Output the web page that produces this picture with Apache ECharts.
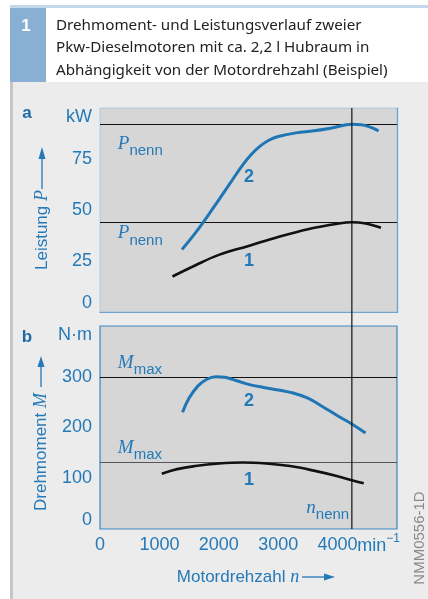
<!DOCTYPE html>
<html><head><meta charset="utf-8">
<script src="https://cdn.jsdelivr.net/npm/echarts@6/dist/echarts.min.js"></script>
<style>html,body{margin:0;padding:0;background:#fff}#c{width:428px;height:599px}</style>
</head><body><div id="c"></div>
<script>
// Engine speed (min^-1) and output for the two diesel engines
const powerRpm2 = [1380, 1600, 1800, 2000, 2200, 2400, 2550, 2700, 2850, 3000, 3300, 3600, 3900, 4240, 4400, 4550, 4690];
const powerKw2  = [30.6, 38.5, 46.5, 55.0, 63.5, 72.0, 77.3, 81.4, 84.3, 86.0, 87.8, 88.8, 90.2, 92.0, 91.8, 90.6, 88.8];
const powerRpm1 = [1220, 1600, 2000, 2500, 3000, 3500, 4000, 4240, 4450, 4730];
const powerKw1  = [17.4, 22.8, 28.0, 32.4, 36.8, 40.6, 43.3, 44.0, 43.5, 41.3];
const torqueRpm2 = [1390, 1500, 1650, 1800, 1950, 2100, 2300, 2500, 2750, 3000, 3250, 3500, 3750, 4000, 4240, 4470];
const torqueNm2  = [230, 258, 282, 295, 300, 299, 292, 285, 279, 274, 268, 258, 241, 223, 207, 189];
const torqueRpm1 = [1040, 1300, 1600, 2000, 2400, 2800, 3200, 3600, 4000, 4240, 4440];
const torqueNm1  = [109, 118, 124, 129, 131, 129, 124, 115, 104, 96, 90];

// Rated power, maximum torque and rated speed markers
const ratedPower = [92, 44];
const maxTorque = [300, 131];
const ratedSpeed = 4240;

// Axis ticks
const rpmTicks = [0, 1000, 2000, 3000, 4000];
const rpmTickLabels = ['0', '1000', '2000', '3000', '4000'];
const rpmUnit = '{u|min}{e|−1}';
const powerTicks = [0, 25, 50, 75, 100];
const powerTickLabels = ['0', '25', '50', '75', 'kW'];
const torqueTicks = [0, 100, 200, 300, 400];
const torqueTickLabels = ['0', '100', '200', '300', 'N·m'];

const BLUE = '#1f76b4';
const TXT = '#2479b8';
const FONT = '"Liberation Sans", Arial, Helvetica, sans-serif';
const SERIF = '"Liberation Serif", "DejaVu Serif", serif';

const zip = (a, b) => a.map((v, i) => [v, b[i]]);
const lookup = (ticks, labels) => v => { const i = ticks.indexOf(v); return i < 0 ? '' : labels[i]; };

const chart = echarts.init(document.getElementById('c'), null, {renderer: 'canvas'});

const xAxisBase = {
  type: 'value', min: 0, max: 5000, interval: 1000,
  splitLine: {show: true, lineStyle: {color: '#ffffff', width: 1.5}},
  axisTick: {show: false}
};
const yLabel = {color: TXT, fontSize: 18, fontFamily: FONT, margin: 8,
  verticalAlignMinLabel: 'bottom', verticalAlignMaxLabel: 'top'};

function hLines(values, color) {
  return {
    silent: true, symbol: 'none', animation: false,
    label: {show: false},
    lineStyle: {color: color, width: 1.2, type: 'solid'},
    data: values.map(v => ({yAxis: v}))
  };
}

chart.setOption({
  animation: false,
  backgroundColor: '#ffffff',
  grid: [
    {left: 100, top: 108, width: 297, height: 204, show: true, backgroundColor: '#d6d6d6', borderColor: '#a9c4dc', borderWidth: 1, z: 1},
    {left: 100, top: 326, width: 297, height: 203, show: true, backgroundColor: '#d6d6d6', borderColor: '#3583c0', borderWidth: 1.2, z: 1}
  ],
  xAxis: [
    Object.assign({}, xAxisBase, {gridIndex: 0, axisLabel: {show: false},
      axisLine: {show: true, lineStyle: {color: '#3583c0', width: 1.2}}}),
    Object.assign({}, xAxisBase, {gridIndex: 1,
      axisLine: {show: false},
      axisLabel: {color: TXT, fontSize: 18, fontFamily: FONT, margin: 7, interval: 0,
        showMaxLabel: false, showMinLabel: true,
        formatter: lookup(rpmTicks, rpmTickLabels)}})
  ],
  yAxis: [
    {type: 'value', gridIndex: 0, min: 0, max: 100, interval: 25,
      splitLine: {show: true, lineStyle: {color: '#ffffff', width: 1.5}},
      axisLine: {show: false}, axisTick: {show: false},
      axisLabel: Object.assign({formatter: lookup(powerTicks, powerTickLabels), showMaxLabel: true}, yLabel)},
    {type: 'value', gridIndex: 0, position: 'right', min: 0, max: 100, interval: 25,
      splitLine: {show: false}, axisTick: {show: false}, axisLabel: {show: false},
      axisLine: {show: true, lineStyle: {color: '#3583c0', width: 1.2}}},
    {type: 'value', gridIndex: 1, min: 0, max: 400, interval: 100,
      splitLine: {show: true, lineStyle: {color: '#ffffff', width: 1.5}},
      axisLine: {show: false}, axisTick: {show: false},
      axisLabel: Object.assign({formatter: lookup(torqueTicks, torqueTickLabels), showMaxLabel: true}, yLabel)}
  ],
  series: [
    {type: 'line', xAxisIndex: 0, yAxisIndex: 0, data: zip(powerRpm2, powerKw2), smooth: 0.4,
      showSymbol: false, lineStyle: {color: BLUE, width: 3}, z: 5,
      markLine: hLines(ratedPower, '#111111')},
    {type: 'line', xAxisIndex: 0, yAxisIndex: 0, data: zip(powerRpm1, powerKw1), smooth: 0.4,
      showSymbol: false, lineStyle: {color: '#111111', width: 2.6}, z: 5},
    {type: 'line', xAxisIndex: 1, yAxisIndex: 2, data: zip(torqueRpm2, torqueNm2), smooth: 0.4,
      showSymbol: false, lineStyle: {color: BLUE, width: 3}, z: 5,
      markLine: hLines([maxTorque[0]], '#111111')},
    {type: 'line', xAxisIndex: 1, yAxisIndex: 2, data: zip(torqueRpm1, torqueNm1), smooth: 0.4,
      showSymbol: false, lineStyle: {color: '#111111', width: 2.6}, z: 5,
      markLine: hLines([maxTorque[1]], '#555555')}
  ]
});

// Text annotations, placed in data coordinates of each panel
const px = (grid, x, y) => chart.convertToPixel({xAxisIndex: grid, yAxisIndex: grid === 0 ? 0 : 2}, [x, y]);
const tok = (o) => Object.assign({fill: TXT, color: TXT}, o);
const subRich = {
  i: tok({fontFamily: SERIF, fontStyle: 'italic', fontSize: 19, verticalAlign: 'top', lineHeight: 24}),
  s: tok({fontFamily: FONT, fontSize: 15, verticalAlign: 'bottom', lineHeight: 24}),
  b: tok({fontFamily: FONT, fontWeight: 'bold', fontSize: 18}),
  u: tok({fontFamily: FONT, fontSize: 18, verticalAlign: 'bottom', lineHeight: 22}),
  e: tok({fontFamily: FONT, fontSize: 12, verticalAlign: 'top', lineHeight: 22})
};
const titleRich = {
  a: tok({fontFamily: FONT, fontSize: 17}),
  i: tok({fontFamily: SERIF, fontStyle: 'italic', fontSize: 18})
};
const notes = [
  {g: 0, x: 300, y: 81, t: '{i|P}{s|nenn}', align: 'left'},
  {g: 0, x: 300, y: 37.3, t: '{i|P}{s|nenn}', align: 'left'},
  {g: 1, x: 300, y: 322, t: '{i|M}{s|max}', align: 'left'},
  {g: 1, x: 300, y: 155, t: '{i|M}{s|max}', align: 'left'},
  {g: 1, x: ratedSpeed - 45, y: 37, t: '{i|n}{s|nenn}', align: 'right'},
  {g: 0, x: 2510, y: 66.3, t: '{b|2}', align: 'center'},
  {g: 0, x: 2510, y: 25, t: '{b|1}', align: 'center'},
  {g: 1, x: 2510, y: 252, t: '{b|2}', align: 'center'},
  {g: 1, x: 2510, y: 96.5, t: '{b|1}', align: 'center'}
];
const graphics = [
  // panel backgrounds
  {type: 'rect', z: -10, shape: {x: 10, y: 5, width: 418, height: 77}, style: {fill: '#c4d6ea'}},
  {type: 'rect', z: -9, shape: {x: 10, y: 8, width: 36, height: 74}, style: {fill: '#8aafd5'}},
  {type: 'rect', z: -9, shape: {x: 46, y: 8, width: 382, height: 74}, style: {fill: '#ffffff'}},
  {type: 'rect', z: -10, shape: {x: 10, y: 82, width: 418, height: 517}, style: {fill: '#ececec'}},
  {type: 'rect', z: -9, shape: {x: 10, y: 82, width: 3, height: 517}, style: {fill: '#c6c6c6'}},
  // heading
  {type: 'text', z: 10, x: 26, y: 26, style: {text: '1', fill: '#ffffff', font: 'bold 17px ' + FONT, textAlign: 'center', textVerticalAlign: 'middle'}},
  {type: 'text', z: 10, x: 56, y: 14, style: {
    text: 'Drehmoment- und Leistungsverlauf zweier\nPkw-Dieselmotoren mit ca. 2,2 l Hubraum in\nAbhängigkeit von der Motordrehzahl (Beispiel)',
    fill: '#222222', font: '15.2px "Noto Sans", sans-serif', lineHeight: 22.5, textAlign: 'left', textVerticalAlign: 'top'}},
  // panel letters
  {type: 'text', z: 10, x: 27, y: 113, style: {text: 'a', fill: '#1d6aa8', font: 'bold 17px ' + FONT, textAlign: 'center', textVerticalAlign: 'middle'}},
  {type: 'text', z: 10, x: 27, y: 337, style: {text: 'b', fill: '#1d6aa8', font: 'bold 17px ' + FONT, textAlign: 'center', textVerticalAlign: 'middle'}},
  // axis titles
  {type: 'text', z: 10, x: 42, y: 230, rotation: Math.PI / 2, style: {
    text: '{a|Leistung }{i|P}', fill: TXT, textAlign: 'center', textVerticalAlign: 'middle', rich: titleRich}},
  {type: 'line', z: 10, shape: {x1: 42, y1: 189, x2: 42, y2: 156}, style: {stroke: TXT, lineWidth: 1.3}},
  {type: 'polygon', z: 10, shape: {points: [[42, 147], [38.5, 159], [45.5, 159]]}, style: {fill: TXT}},
  {type: 'text', z: 10, x: 41, y: 452, rotation: Math.PI / 2, style: {
    text: '{a|Drehmoment }{i|M}', fill: TXT, textAlign: 'center', textVerticalAlign: 'middle', rich: titleRich}},
  {type: 'line', z: 10, shape: {x1: 41, y1: 387, x2: 41, y2: 364}, style: {stroke: TXT, lineWidth: 1.3}},
  {type: 'polygon', z: 10, shape: {points: [[41, 356], [37.5, 367], [44.5, 367]]}, style: {fill: TXT}},
  {type: 'text', z: 10, x: 238, y: 577, style: {
    text: '{a|Motordrehzahl }{i|n}', fill: TXT, textAlign: 'center', textVerticalAlign: 'middle', rich: titleRich}},
  {type: 'line', z: 10, shape: {x1: 302, y1: 577, x2: 326, y2: 577}, style: {stroke: TXT, lineWidth: 1.3}},
  {type: 'polygon', z: 10, shape: {points: [[335, 577], [324, 573.5], [324, 580.5]]}, style: {fill: TXT}},
  // drawing number
  {type: 'text', z: 10, x: 420, y: 538, rotation: Math.PI / 2, style: {
    text: 'NMM0556-1D', fill: '#8a8a8a', font: '15px ' + FONT, textAlign: 'center', textVerticalAlign: 'middle'}}
];

// speed unit after the last tick label
const unitP = px(1, 5000, 0);
graphics.push({type: 'text', z: 20, x: unitP[0] + 3, y: unitP[1] + 15, style: {
  text: rpmUnit, fill: TXT, textAlign: 'right', textVerticalAlign: 'middle', rich: subRich}});

// rated speed: one vertical line through both panels
const topP = px(0, ratedSpeed, 100);
const botP = px(1, ratedSpeed, 0);
graphics.push({type: 'line', z: 20, shape: {x1: topP[0], y1: topP[1], x2: botP[0], y2: botP[1]},
  style: {stroke: '#111111', lineWidth: 1.2}});

notes.forEach(n => {
  const p = px(n.g, n.x, n.y);
  graphics.push({type: 'text', z: 20, x: p[0], y: p[1], style: {
    text: n.t, fill: TXT, textAlign: n.align, textVerticalAlign: 'middle', rich: subRich}});
});

chart.setOption({graphic: graphics});
</script>
</body></html>
